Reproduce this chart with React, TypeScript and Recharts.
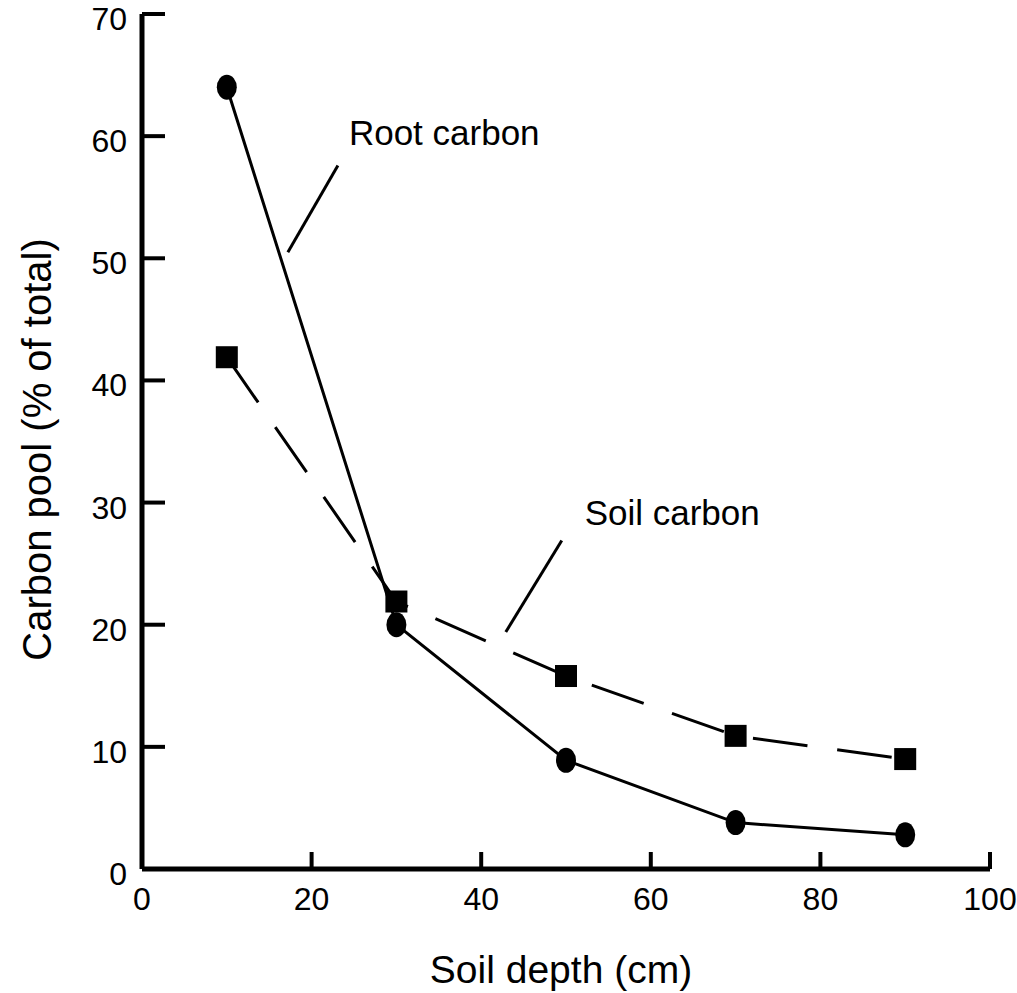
import React from 'react';
import { LineChart, Line, XAxis, YAxis, ReferenceLine, ReferenceDot } from 'recharts';

const depths = [10, 30, 50, 70, 90];
const rootCarbon = [64, 20, 8.9, 3.8, 2.8];
const soilCarbon = [41.9, 21.9, 15.8, 10.9, 9.0];
const xTicks = [0, 20, 40, 60, 80, 100];
const yTicks = [0, 10, 20, 30, 40, 50, 60, 70];

const rootLeader = [{ x: 23.1, y: 57.6 }, { x: 17.2, y: 50.5 }];
const soilLeader = [{ x: 49.5, y: 26.9 }, { x: 42.9, y: 19.4 }];
const rootLabel = { x: 24.4, y: 59.3, text: 'Root carbon' };
const soilLabel = { x: 52.2, y: 28.2, text: 'Soil carbon' };

const data = depths.map((d, i) => ({ depth: d, root: rootCarbon[i], soil: soilCarbon[i] }));

const FONT = '"Liberation Sans", Arial, Helvetica, sans-serif';

const YTick = (p: any) => {
  const { x, y, payload } = p;
  return (
    <g>
      <line x1={x} x2={x + 23} y1={y} y2={y} stroke="#000" strokeWidth={4} />
      <text x={x - 15} y={y + 16} textAnchor="end" fontSize={32} fontFamily={FONT} fill="#000">
        {payload.value}
      </text>
    </g>
  );
};

const XTick = (p: any) => {
  const { x, y, payload } = p;
  return (
    <g>
      <line x1={x} x2={x} y1={y} y2={y - 17} stroke="#000" strokeWidth={4} />
      <text x={x} y={y + 41} textAnchor="middle" fontSize={32} fontFamily={FONT} fill="#000">
        {payload.value}
      </text>
    </g>
  );
};

const EllipseDot = (p: any) => (
  <ellipse key={`e${p.index}`} cx={p.cx} cy={p.cy} rx={10} ry={12.5} fill="#000" />
);
const SquareDot = (p: any) => (
  <rect key={`s${p.index}`} x={p.cx - 11} y={p.cy - 11} width={22} height={22} fill="#000" />
);

const textShape = (t: string) => (p: any) => (
  <text x={p.cx} y={p.cy} textAnchor="start" fontSize={35} fontFamily={FONT} fill="#000">
    {t}
  </text>
);

export default function App() {
  return (
    <div style={{ position: 'absolute', left: 0, top: 0, background: '#fff' }}>
      <LineChart
        width={1017}
        height={993}
        data={data}
        margin={{ top: 14, right: 27, bottom: 0, left: 0 }}
      >
        <XAxis
          dataKey="depth"
          type="number"
          domain={[0, 100]}
          ticks={xTicks}
          height={124}
          axisLine={{ stroke: '#000', strokeWidth: 5 }}
          tickLine={false}
          tickSize={0}
          tickMargin={0}
          tick={<XTick />}
          interval={0}
          label={{
            content: (props: any) => {
              const vb = props.viewBox;
              return (
                <text
                  x={vb.x + vb.width / 2 - 5}
                  y={vb.y + 114}
                  textAnchor="middle"
                  fontSize={39}
                  fontFamily={FONT}
                  fill="#000"
                >
                  Soil depth (cm)
                </text>
              );
            },
          }}
        />
        <YAxis
          type="number"
          domain={[0, 70]}
          ticks={yTicks}
          width={142}
          axisLine={{ stroke: '#000', strokeWidth: 5 }}
          tickLine={false}
          tickSize={0}
          tickMargin={0}
          tick={<YTick />}
          interval={0}
          label={{
            content: (props: any) => {
              const vb = props.viewBox;
              const cx = 37;
              const cy = vb.y + vb.height / 2 + 8;
              return (
                <text
                  x={cx}
                  y={cy}
                  transform={`rotate(-90 ${cx} ${cy})`}
                  textAnchor="middle"
                  dominantBaseline="central"
                  fontSize={40}
                  fontFamily={FONT}
                  fill="#000"
                >
                  Carbon pool (% of total)
                </text>
              );
            },
          }}
        />
        <ReferenceLine
          segment={rootLeader}
          stroke="#000"
          strokeWidth={3}
          ifOverflow="visible"
        />
        <ReferenceLine
          segment={soilLeader}
          stroke="#000"
          strokeWidth={3}
          ifOverflow="visible"
        />
        <ReferenceDot
          x={rootLabel.x}
          y={rootLabel.y}
          r={1}
          ifOverflow="visible"
          shape={textShape(rootLabel.text)}
        />
        <ReferenceDot
          x={soilLabel.x}
          y={soilLabel.y}
          r={1}
          ifOverflow="visible"
          shape={textShape(soilLabel.text)}
        />
        <Line
          dataKey="soil"
          type="linear"
          stroke="#000"
          strokeWidth={3}
          strokeDasharray="55 30"
          dot={SquareDot}
          activeDot={false}
          isAnimationActive={false}
        />
        <Line
          dataKey="root"
          type="linear"
          stroke="#000"
          strokeWidth={3}
          dot={EllipseDot}
          activeDot={false}
          isAnimationActive={false}
        />
      </LineChart>
    </div>
  );
}
